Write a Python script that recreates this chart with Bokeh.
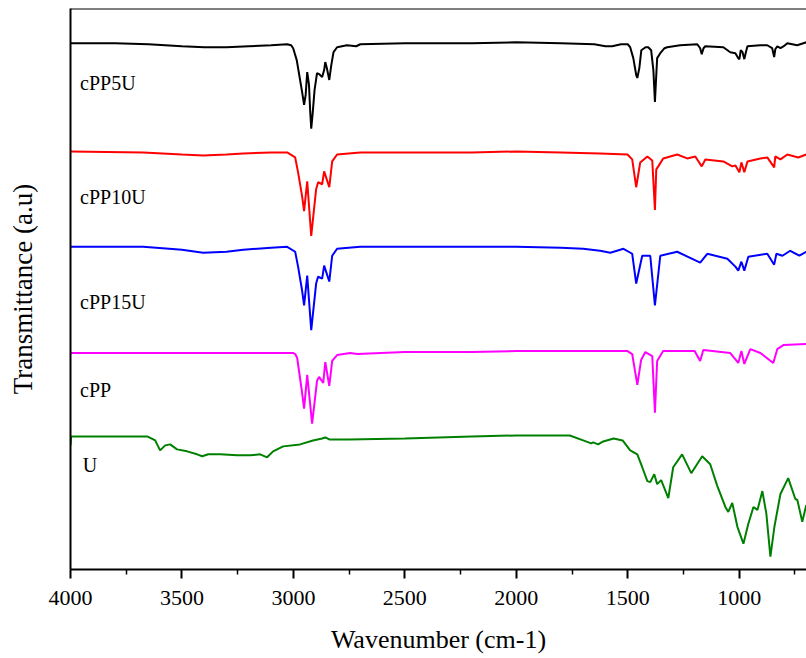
from bokeh.plotting import figure
from bokeh.models import Range1d, FixedTicker, Span, Label
from bokeh.embed import file_html
from bokeh.resources import INLINE

# ---- data (wavenumber in cm-1, transmittance in arbitrary offset units) ----
cpp5u_wn = [4000, 3800, 3650, 3500, 3400, 3300, 3200, 3100, 3028, 3010,
            3001, 2985, 2970, 2961, 2952, 2945, 2938, 2930, 2925, 2920,
            2914, 2905, 2894, 2885, 2871, 2862, 2857, 2850, 2839, 2830,
            2820, 2804, 2760, 2718, 2700, 2500, 2200, 2000, 1800, 1650,
            1600, 1570, 1530, 1500, 1489, 1475, 1462, 1457, 1448, 1439,
            1420, 1408, 1395, 1385, 1378, 1372, 1368, 1354, 1335, 1323,
            1265, 1188, 1175, 1168, 1160, 1152, 1071, 1040, 1017, 1004,
            999, 993, 985, 977, 970, 963, 905, 874, 852, 843,
            838, 829, 815, 800, 784, 740, 712, 698]
cpp5u_t = [530, 530, 529, 527, 526, 526, 527, 528, 529, 528,
           525, 513, 493, 481, 468, 478, 501, 488, 463, 444,
           458, 483, 500, 499, 496, 503, 511, 505, 493, 508,
           521, 526, 528, 527, 529, 530, 530, 531, 530, 529,
           527, 527, 529, 529, 526, 515, 498, 495, 505, 523,
           526, 526, 523, 503, 471, 498, 515, 520, 525, 526,
           528, 529, 525, 519, 525, 527, 526, 521, 520, 515,
           514, 523, 521, 514, 521, 527, 528, 528, 525, 516,
           524, 527, 525, 527, 530, 528, 530, 531]

cpp10u_wn = [4000, 3674, 3500, 3405, 3300, 3225, 3100, 3028, 2992, 2979,
             2961, 2952, 2938, 2920, 2898, 2889, 2871, 2862, 2839, 2826,
             2804, 2700, 2500, 2200, 2000, 1800, 1624, 1501, 1480, 1462,
             1444, 1412, 1390, 1378, 1372, 1363, 1341, 1278, 1233, 1197,
             1168, 1152, 1071, 1031, 1017, 999, 990, 977, 963, 905,
             874, 843, 838, 815, 784, 735, 699]
cpp10u_t = [421, 420, 418, 417, 418, 419, 420, 420, 415, 400,
            376, 361, 391, 336, 383, 390, 388, 401, 385, 411,
            418, 420, 420, 420, 421, 420, 419, 418, 413, 385,
            410, 416, 412, 362, 403, 406, 414, 418, 414, 416,
            406, 413, 411, 406, 407, 400, 410, 400, 411, 414,
            415, 405, 416, 413, 418, 415, 418]

cpp15u_wn = [4000, 3674, 3500, 3405, 3300, 3225, 3100, 3028, 2992, 2979,
             2961, 2952, 2938, 2920, 2898, 2889, 2871, 2862, 2839, 2826,
             2804, 2700, 2500, 2200, 2000, 1800, 1700, 1624, 1578, 1519,
             1480, 1462, 1435, 1399, 1378, 1354, 1278, 1175, 1143, 1053,
             1017, 1004, 990, 977, 959, 874, 843, 833, 806, 771,
             730, 699]
cpp15u_t = [325, 325, 322, 319, 320, 322, 324, 325, 320, 305,
            281, 266, 296, 241, 288, 295, 293, 306, 290, 316,
            323, 325, 325, 325, 325, 324, 323, 321, 319, 323,
            318, 288, 316, 316, 266, 316, 320, 309, 318, 313,
            305, 301, 310, 301, 315, 318, 307, 318, 316, 321,
            316, 320]

cpp_wn = [4000, 3500, 3000, 2992, 2983, 2961, 2952, 2938, 2916, 2894,
          2885, 2866, 2857, 2839, 2826, 2804, 2745, 2713, 2500, 2200,
          2000, 1848, 1501, 1480, 1457, 1440, 1421, 1390, 1378, 1368,
          1341, 1200, 1175, 1161, 1040, 1004, 990, 977, 950, 905,
          847, 829, 802, 699]
cpp_t = [218, 218, 218, 217, 213, 178, 162, 196, 147, 190,
         194, 188, 209, 185, 210, 216, 218, 217, 219, 219,
         220, 220, 220, 217, 186, 211, 219, 215, 158, 210,
         220, 220, 210, 221, 218, 208, 220, 207, 222, 218,
         208, 222, 226, 227]

u_wn = [4000, 3997, 3800, 3656, 3620, 3598, 3575, 3553, 3522, 3477,
        3432, 3409, 3382, 3329, 3252, 3194, 3149, 3118, 3091, 3046,
        2970, 2912, 2871, 2857, 2839, 2750, 2500, 2200, 2000, 1760,
        1700, 1664, 1655, 1633, 1610, 1563, 1523, 1489, 1457, 1435,
        1412, 1399, 1381, 1368, 1350, 1318, 1296, 1256, 1215, 1166,
        1130, 1098, 1062, 1049, 1031, 1008, 981, 959, 936, 918,
        896, 878, 860, 842, 815, 780, 748, 739, 717, 699]
u_t = [125, 134, 134, 134, 130, 120, 125, 126, 121, 119,
       116, 114, 116, 116, 115, 115, 116, 113, 119, 124,
       126, 130, 132, 133, 131, 131, 132, 134, 135, 135,
       130, 127, 128, 126, 129, 132, 130, 120, 116, 103,
       89, 88, 96, 86, 90, 72, 103, 116, 97, 114,
       106, 84, 63, 58, 67, 43, 26, 46, 63, 60,
       79, 56, 13, 43, 76, 92, 71, 70, 48, 65]

series_names = ["cPP5U", "cPP10U", "cPP15U", "cPP", "U"]
series_colors = ["#000000", "#ff0000", "#0000ff", "#ff00ff", "#008000"]
x_ticks = [4000, 3500, 3000, 2500, 2000, 1500, 1000]
x_minor = [3750, 3250, 2750, 2250, 1750, 1250, 750]

series = [(cpp5u_wn, cpp5u_t), (cpp10u_wn, cpp10u_t), (cpp15u_wn, cpp15u_t),
          (cpp_wn, cpp_t), (u_wn, u_t)]
# label anchor positions (wavenumber, a.u.)
label_pos = [(3957, 490), (3957, 375), (3957, 269), (3957, 181), (3945, 105)]

FONT = "Liberation Serif"

p = figure(width=806, height=656, output_backend="svg", toolbar_location=None,
           x_range=Range1d(4000, 698), y_range=Range1d(0, 565),
           min_border_left=70, min_border_right=0, min_border_top=8,
           min_border_bottom=83)
p.grid.visible = False
p.outline_line_color = None

for (wn, t), c in zip(series, series_colors):
    p.line(wn, t, line_color=c, line_width=2)

for name, (lx, ly) in zip(series_names, label_pos):
    p.add_layout(Label(x=lx, y=ly, text=name, text_font=FONT,
                       text_font_size="20px", text_color="#000000",
                       text_baseline="alphabetic"))

p.add_layout(Span(location=565, dimension="width", line_color="black",
                  line_width=2))

xa = p.xaxis[0]
xa.ticker = FixedTicker(ticks=x_ticks, minor_ticks=x_minor)
xa.axis_label = "Wavenumber (cm-1)"
xa.axis_label_text_font = FONT
xa.axis_label_text_font_style = "normal"
xa.axis_label_text_font_size = "26px"
xa.axis_label_text_color = "#000000"
xa.axis_label_standoff = 17
xa.major_label_text_font = FONT
xa.major_label_text_font_size = "22px"
xa.major_label_text_color = "#000000"
xa.major_label_standoff = 12
xa.axis_line_width = 2
xa.major_tick_line_width = 2
xa.minor_tick_line_width = 1.5
xa.major_tick_out = 9
xa.major_tick_in = 0
xa.minor_tick_out = 5
xa.minor_tick_in = 0

ya = p.yaxis[0]
ya.ticker = FixedTicker(ticks=[])
ya.major_tick_line_color = None
ya.minor_tick_line_color = None
ya.major_label_text_font_size = "0px"
ya.major_tick_out = 0
ya.major_label_standoff = 0
ya.axis_line_width = 2
ya.axis_label = "Transmittance (a.u)"
ya.axis_label_text_font = FONT
ya.axis_label_text_font_style = "normal"
ya.axis_label_text_font_size = "27px"
ya.axis_label_text_color = "#000000"
ya.axis_label_standoff = 33

open("out.html", "w").write(file_html(p, INLINE))
